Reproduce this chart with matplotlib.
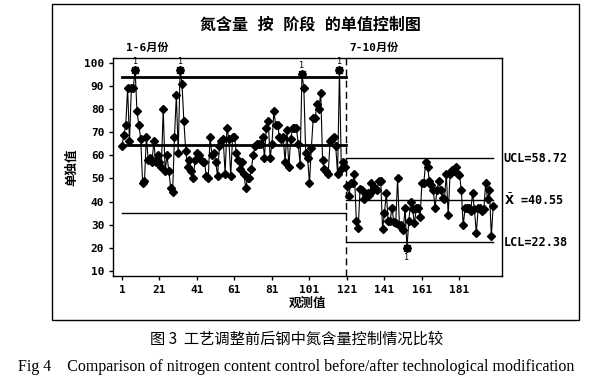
import matplotlib.pyplot as plt
from matplotlib.patches import Rectangle

plt.rcParams['font.family'] = ['DejaVu Sans Mono', 'Noto Sans CJK SC']

# stage 1 (Jan-Jun) and stage 2 (Jul-Oct) individual values
stage1 = [64, 69, 73, 89, 66, 89, 89, 97, 79, 73,
          67, 48, 49, 68, 58, 59, 57, 66, 57, 60,
          57, 55, 80, 53, 60, 53, 46, 44, 68, 86,
          61, 97, 91, 75, 62, 55, 58, 53, 50, 58,
          61, 60, 58, 57, 57, 51, 50, 68, 60, 61,
          57, 51, 64, 66, 67, 52, 72, 67, 51, 68,
          68, 61, 58, 54, 57, 52, 46, 50, 50, 54,
          60, 64, 65, 65, 65, 68, 59, 72, 75, 59,
          65, 79, 73, 73, 68, 67, 68, 57, 71, 55,
          67, 72, 72, 72, 65, 56, 95, 89, 61, 59,
          48, 63, 76, 76, 82, 80, 87, 58, 54, 53,
          52, 66, 67, 68, 64, 52, 97, 54, 57, 55]
stage2 = [46.6, 42.3, 48, 48, 52, 31.6, 28.7, 45.5, 45, 41,
          43, 43.6, 43, 48, 45, 46, 45, 49, 49, 28,
          35, 43.7, 31.6, 31.6, 37.3, 31, 30.6, 50, 29.7, 29.7,
          27.6, 37, 20, 31.6, 39.7, 36.6, 30.6, 37, 37.3, 33.5,
          48, 48, 57.3, 55, 48.8, 47, 45, 37.3, 45, 48.8,
          45, 41.6, 41, 52, 34, 52, 53.5, 53, 55, 52,
          51.6, 45, 29.7, 37, 37, 37, 36, 43.7, 36.6, 26.4,
          37, 37, 36, 36.6, 48, 41, 45, 25, 38]

ucl1, cl1, lcl1 = 93.7, 64.4, 35.1
ucl2, cl2, lcl2 = 58.72, 40.55, 22.38
xticks = [1, 21, 41, 61, 81, 101, 121, 141, 161, 181]
yticks = [10, 20, 30, 40, 50, 60, 70, 80, 90, 100]

n1 = len(stage1)
x1 = list(range(1, n1 + 1))
x2 = list(range(n1 + 1, n1 + len(stage2) + 1))
split = n1 + 0.5

fig = plt.figure(figsize=(6.03, 3.82), dpi=100)
ax = fig.add_axes([0.188, 0.2775, 0.6445, 0.5695])

for xs, ys, ucl, lcl in [(x1, stage1, ucl1, lcl1), (x2, stage2, ucl2, lcl2)]:
    ax.plot(xs, ys, color='black', lw=0.8, marker='D', ms=3.8, zorder=3)
    for xi, yi in zip(xs, ys):
        if yi > ucl:
            ax.plot(xi, yi, marker='s', ms=5, color='black', zorder=4)
            ax.annotate('1', (xi, yi), xytext=(0, 3), textcoords='offset points',
                        ha='center', va='bottom', fontsize=6)
        elif yi < lcl:
            ax.plot(xi, yi, marker='s', ms=5, color='black', zorder=4)
            ax.annotate('1', (xi, yi), xytext=(0, -4), textcoords='offset points',
                        ha='center', va='top', fontsize=6)

# control limits
ax.plot([1, split], [ucl1, ucl1], color='black', lw=2)
ax.plot([1, split], [cl1, cl1], color='black', lw=2)
ax.plot([1, split], [lcl1, lcl1], color='black', lw=1)
for v in [ucl2, cl2, lcl2]:
    ax.plot([split, x2[-1]], [v, v], color='black', lw=1)
ax.axvline(split, color='black', lw=1, ls=(0, (5, 3)))

ax.set_xlim(-3.6, 203.7)
ax.set_ylim(7.8, 101.9)
ax.set_xticks(xticks)
ax.set_yticks(yticks)
ax.tick_params(labelsize=8, length=3, width=1, direction='out')
for lab in ax.get_xticklabels() + ax.get_yticklabels():
    lab.set_fontweight('bold')
for s in ax.spines.values():
    s.set_linewidth(1)

ax.set_xlabel('观测值', fontsize=9, fontweight='bold', labelpad=1)
ax.set_ylabel('单独值', fontsize=9, fontweight='bold', labelpad=4)

tr = ax.get_yaxis_transform()
ax.text(1.004, ucl2, 'UCL=58.72', transform=tr, va='center', fontsize=8.5, fontweight='bold')
ax.text(1.004, cl2, r'$\bar{\mathbf{X}}$ =40.55', transform=tr, va='center', fontsize=8.5, fontweight='bold')
ax.text(1.004, lcl2, 'LCL=22.38', transform=tr, va='center', fontsize=8.5, fontweight='bold')

xtr = ax.get_xaxis_transform()
ax.text(3, 1.025, '1-6月份', transform=xtr, va='bottom', fontsize=8, fontweight='bold')
ax.text(122, 1.025, '7-10月份', transform=xtr, va='bottom', fontsize=8, fontweight='bold')

fig.text(0.515, 1 - 25 / 382, '氮含量 按 阶段 的单值控制图', ha='center', va='center',
         fontsize=11.5, fontweight='bold')

fig.patches.append(Rectangle((52 / 603, 1 - 320 / 382), (579 - 52) / 603, (320 - 4) / 382,
                             fill=False, lw=1, color='black', transform=fig.transFigure))

fig.text(0.492, 1 - 339 / 382, '图 3  工艺调整前后钢中氮含量控制情况比较', ha='center', va='center',
         fontsize=11, family=['Noto Sans CJK SC'])
fig.text(0.492, 1 - 367 / 382,
         'Fig 4    Comparison of nitrogen content control before/after technological modification',
         ha='center', va='center', fontsize=11.5, family=['Liberation Serif'])

fig.savefig('out.png', dpi=100)
